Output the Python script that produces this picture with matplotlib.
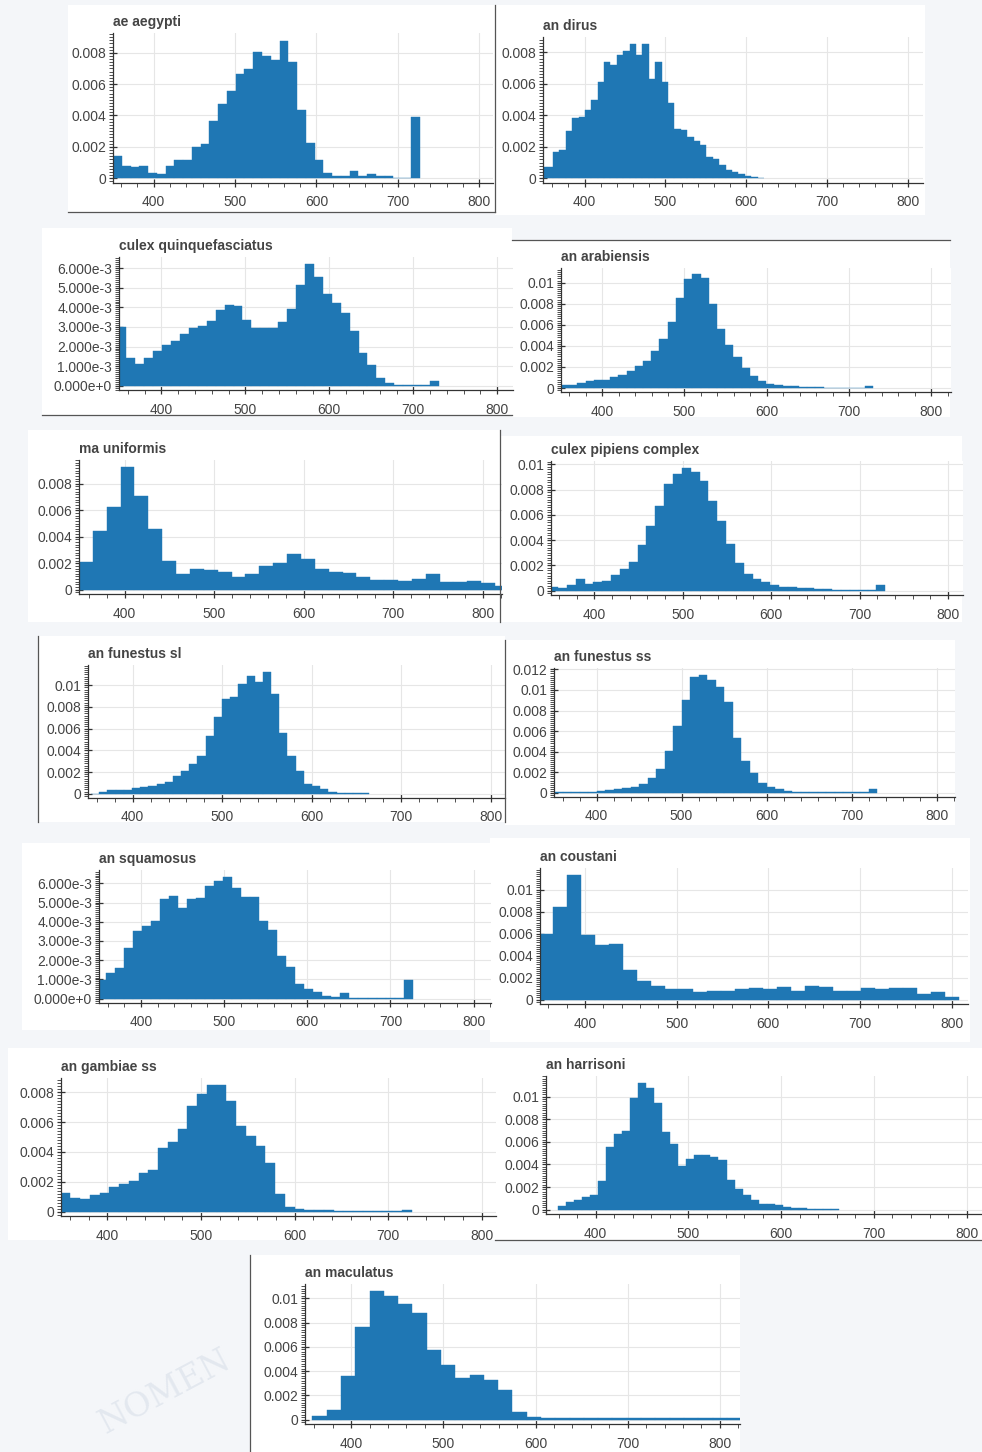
import numpy as np
import matplotlib.pyplot as plt
from matplotlib.ticker import MultipleLocator, FuncFormatter
from matplotlib.patches import Rectangle
from matplotlib.lines import Line2D

plt.rcParams['font.family'] = ['Liberation Sans', 'DejaVu Sans']

W, H = 982, 1452
BLUE = '#1f77b4'
GREY = '#444444'

# densities are in units of 1e-3, bins run evenly from the first to the last edge
ae_aegypti = [1.39, 0.75, 0.7, 0.75, 0.32, 0.28, 0.75, 1.15, 1.17, 2.0, 2.2, 3.62, 4.75,
              5.54, 6.67, 6.97, 8.06, 7.78, 7.57, 8.78, 7.42, 4.35, 2.24, 1.15, 0.32,
              0.17, 0.17, 0.49, 0.11, 0.26, 0.13, 0.13, 0.04, 0.0, 3.9]
ae_aegypti_edges = (350, 727)

an_dirus = [0.7, 0.7, 1.7, 1.8, 3.0, 3.8, 3.9, 4.35, 4.95, 6.1, 7.35, 7.2, 7.8, 8.05, 8.5,
            7.8, 8.5, 6.3, 7.35, 6.1, 4.8, 3.15, 3.05, 2.6, 2.35, 2.1, 1.35, 1.2, 0.85,
            0.55, 0.38, 0.25, 0.15, 0.08, 0.05]
an_dirus_edges = (345, 622)

culex_quinquefasciatus = [2.98, 1.42, 1.09, 1.42, 1.76, 2.09, 2.26, 2.63, 2.93, 3.07, 3.3,
                          3.85, 4.14, 4.07, 3.35, 2.93, 2.93, 2.93, 3.27, 3.94, 5.14, 6.23,
                          5.53, 4.69, 4.2, 3.7, 2.8, 1.68, 1.05, 0.38, 0.15, 0.06, 0.06,
                          0.06, 0.06, 0.22]
culex_quinquefasciatus_edges = (347.7, 730.5)

an_arabiensis = [0.32, 0.32, 0.45, 0.67, 0.73, 0.8, 1.0, 1.27, 1.6, 2.13, 2.6, 3.56, 4.67,
                 6.25, 8.54, 10.38, 10.8, 10.44, 8.0, 5.62, 4.1, 2.92, 1.87, 1.11, 0.67,
                 0.41, 0.29, 0.16, 0.16, 0.1, 0.06, 0.05, 0.04, 0.03, 0.03, 0.02, 0.01, 0.19]
an_arabiensis_edges = (350, 729)

ma_uniformis = [2.09, 4.4, 6.26, 9.29, 7.08, 4.57, 2.16, 1.22, 1.59, 1.49, 1.34, 0.99, 1.22,
                1.79, 1.99, 2.71, 2.34, 1.59, 1.37, 1.29, 0.97, 0.75, 0.72, 0.67, 0.84,
                1.19, 0.6, 0.55, 0.62, 0.52, 0.3]
ma_uniformis_edges = (348.9, 829.4)

culex_pipiens_complex = [0.32, 0.24, 0.45, 0.9, 0.5, 0.66, 0.8, 1.25, 1.72, 2.28, 3.63, 5.09,
                         6.74, 8.46, 9.2, 9.73, 9.42, 8.67, 7.08, 5.54, 3.71, 2.18, 1.33,
                         0.93, 0.66, 0.45, 0.32, 0.27, 0.24, 0.18, 0.13, 0.1, 0.08, 0.06,
                         0.05, 0.05, 0.04, 0.42]
culex_pipiens_complex_edges = (349, 729)

an_funestus_sl = [0.0, 0.15, 0.3, 0.3, 0.35, 0.55, 0.6, 0.7, 0.9, 1.05, 1.6, 2.05, 2.7, 3.45,
                  5.35, 7.1, 8.75, 8.9, 10.1, 10.9, 10.3, 11.25, 9.2, 5.6, 3.5, 2.1, 0.9,
                  0.7, 0.4, 0.12, 0.08, 0.05, 0.04, 0.03]
an_funestus_sl_edges = (353.5, 664.3)

an_funestus_ss = [0.05, 0.05, 0.05, 0.05, 0.1, 0.2, 0.3, 0.35, 0.45, 0.55, 0.9, 1.4, 2.3, 4.1,
                  6.5, 9.0, 11.3, 11.5, 11.0, 10.3, 8.8, 5.3, 3.05, 1.9, 0.95, 0.55, 0.35,
                  0.2, 0.1, 0.06, 0.05, 0.05, 0.05, 0.05, 0.05, 0.05, 0.05, 0.4]
an_funestus_ss_edges = (350, 730)

an_squamosus = [0.97, 1.34, 1.59, 2.64, 3.5, 3.79, 4.05, 5.17, 5.36, 4.74, 5.17, 5.22, 5.86,
                6.14, 6.34, 5.74, 5.28, 5.26, 4.02, 3.59, 2.21, 1.66, 0.74, 0.52, 0.34, 0.14,
                0.1, 0.31, 0.04, 0.03, 0.02, 0.02, 0.02, 0.02, 0.97]
an_squamosus_edges = (346.8, 726.8)

an_coustani = [5.93, 8.46, 11.34, 5.88, 4.96, 5.04, 2.67, 1.66, 1.25, 0.95, 0.95, 0.68, 0.83,
               0.77, 0.98, 1.04, 1.01, 1.13, 0.74, 1.28, 1.13, 0.83, 0.83, 1.04, 0.98, 1.04,
               1.04, 0.5, 0.65, 0.27]
an_coustani_edges = (350, 808)

an_gambiae_ss = [1.25, 0.88, 0.83, 1.14, 1.27, 1.64, 1.86, 2.08, 2.57, 2.78, 4.23, 4.67, 5.55,
                 7.08, 7.89, 8.49, 8.49, 7.39, 5.75, 5.09, 4.39, 3.29, 1.21, 0.29, 0.18, 0.13,
                 0.1, 0.08, 0.07, 0.06, 0.05, 0.05, 0.05, 0.05, 0.05, 0.1]
an_gambiae_ss_edges = (350, 725)

an_harrisoni = [0.32, 0.67, 0.82, 1.1, 1.25, 2.57, 5.54, 6.7, 6.94, 9.85, 11.22, 10.73, 9.42,
                6.85, 5.77, 3.88, 4.46, 4.81, 4.81, 4.66, 4.4, 2.65, 1.84, 1.25, 0.82, 0.52,
                0.5, 0.41, 0.23, 0.15, 0.12, 0.09, 0.06, 0.05, 0.04]
an_harrisoni_edges = (359.7, 661.9)

an_maculatus = [0.25, 0.8, 3.6, 7.6, 10.6, 10.2, 9.5, 8.8, 5.7, 4.5, 3.4, 3.7, 3.3, 2.4, 0.6,
                0.2, 0.1, 0.1, 0.1, 0.1, 0.1, 0.1, 0.1, 0.1, 0.1, 0.1, 0.1, 0.1, 0.1, 0.15]
an_maculatus_edges = (358, 823)

# name, values, edges, y tick step (1e-3), scientific labels
panels = [
    ('ae aegypti', ae_aegypti, ae_aegypti_edges, 2, False),
    ('an dirus', an_dirus, an_dirus_edges, 2, False),
    ('culex quinquefasciatus', culex_quinquefasciatus, culex_quinquefasciatus_edges, 1, True),
    ('an arabiensis', an_arabiensis, an_arabiensis_edges, 2, False),
    ('ma uniformis', ma_uniformis, ma_uniformis_edges, 2, False),
    ('culex pipiens complex', culex_pipiens_complex, culex_pipiens_complex_edges, 2, False),
    ('an funestus sl', an_funestus_sl, an_funestus_sl_edges, 2, False),
    ('an funestus ss', an_funestus_ss, an_funestus_ss_edges, 2, False),
    ('an squamosus', an_squamosus, an_squamosus_edges, 1, True),
    ('an coustani', an_coustani, an_coustani_edges, 2, False),
    ('an gambiae ss', an_gambiae_ss, an_gambiae_ss_edges, 2, False),
    ('an harrisoni', an_harrisoni, an_harrisoni_edges, 2, False),
    ('an maculatus', an_maculatus, an_maculatus_edges, 2, False),
]

# layout in pixels: white box (x0, y0, x1, y1), plot area (left, top, right, bottom), x range
boxes = [
    (68, 5, 495, 212), (495, 5, 925, 215),
    (42, 228, 512, 415), (512, 240, 950, 417),
    (28, 430, 500, 622), (500, 436, 962, 622),
    (38, 636, 505, 822), (505, 640, 955, 825),
    (22, 843, 490, 1030), (490, 838, 970, 1042),
    (8, 1048, 495, 1240), (495, 1048, 982, 1240),
    (250, 1255, 740, 1452),
]
areas = [
    (113, 33, 493, 183), (543, 37, 923, 183),
    (119, 257, 513, 390), (561, 268, 951, 392),
    (79, 460, 502, 594), (551, 461, 963, 595),
    (88, 665, 505, 798), (554, 668, 955, 797),
    (99, 870, 491, 1003), (540, 868, 968, 1004),
    (61, 1078, 496, 1216), (546, 1076, 982, 1214),
    (305, 1284, 740, 1424),
]
xranges = [
    (350, 817), (348.5, 819), (349.6, 818.7), (350, 824), (348.9, 821.6), (351, 817),
    (350, 816), (350, 821.6), (349.6, 821), (350.9, 818), (350.5, 815), (346.4, 816.5),
    (350, 821.8),
]
frame_lines = [
    ((68, 212), (495, 212)), ((495, 5), (495, 212)),
    ((42, 415), (512, 415)), ((512, 240), (950, 240)),
    ((500, 430), (500, 622)),
    ((38, 636), (38, 822)), ((505, 640), (505, 822)),
    ((495, 1240), (982, 1240)), ((250, 1255), (250, 1452)),
]


def plain_fmt(v, pos):
    if abs(v) < 1e-12:
        return '0'
    return f"{v:.3f}".rstrip('0').rstrip('.')


def sci_fmt(v, pos):
    m, e = f"{v:.3e}".split('e')
    return f"{m}e{int(e):+d}"


fig = plt.figure(figsize=(W / 100, H / 100), dpi=100)
fig.patch.set_facecolor('#f4f6f9')

# faint watermark text from the background page
fig.text(165 / W, 1 - 1392 / H, 'NOMEN', fontsize=24, family='DejaVu Serif',
         color='#e3e8ef', rotation=28, ha='center', va='center', zorder=-2)

for (x0, y0, x1, y1) in boxes:
    fig.add_artist(Rectangle((x0 / W, 1 - y1 / H), (x1 - x0) / W, (y1 - y0) / H,
                             transform=fig.transFigure, facecolor='white',
                             edgecolor='none', zorder=-1))
for (a, b) in frame_lines:
    fig.add_artist(Line2D([a[0] / W, b[0] / W], [1 - a[1] / H, 1 - b[1] / H],
                          transform=fig.transFigure, color='#555555', lw=0.9, zorder=5))

for (name, vals, edges, step, sci), (l, t, r, b), xr in zip(panels, areas, xranges):
    ax = fig.add_axes([l / W, 1 - b / H, (r - l) / W, (b - t) / H])
    dens = np.array(vals) * 1e-3
    bins = np.linspace(edges[0], edges[1], len(vals) + 1)
    ax.bar(bins[:-1], dens, width=np.diff(bins), align='edge', color=BLUE,
           edgecolor=BLUE, linewidth=0.3, zorder=2)

    mx = dens.max()
    ax.set_xlim(*xr)
    ax.set_ylim(-0.035 * mx, 1.055 * mx)

    ax.xaxis.set_major_locator(MultipleLocator(100))
    ax.xaxis.set_minor_locator(MultipleLocator(20))
    ax.yaxis.set_major_locator(MultipleLocator(step * 1e-3))
    ax.yaxis.set_minor_locator(MultipleLocator(step * 1e-3 / 10))
    ax.yaxis.set_major_formatter(FuncFormatter(sci_fmt if sci else plain_fmt))

    ax.grid(True, which='major', color='#e6e6e6', lw=0.8, zorder=0)
    ax.set_axisbelow(True)
    for s in ['top', 'right']:
        ax.spines[s].set_visible(False)
    for s in ['left', 'bottom']:
        ax.spines[s].set_color('#333333')
        ax.spines[s].set_linewidth(0.9)
    ax.tick_params(which='major', direction='inout', length=6, width=0.9,
                   colors='#333333', labelcolor=GREY, labelsize=10)
    ax.tick_params(axis='x', which='major', pad=6)
    ax.tick_params(axis='y', which='major', pad=2)
    ax.tick_params(which='minor', direction='out', length=3, width=0.6, colors='#333333')
    ax.set_facecolor('white')
    ax.set_title(name, loc='left', fontsize=10, fontweight='bold', color=GREY, pad=5)

fig.savefig('out.png', dpi=100, facecolor=fig.get_facecolor())
